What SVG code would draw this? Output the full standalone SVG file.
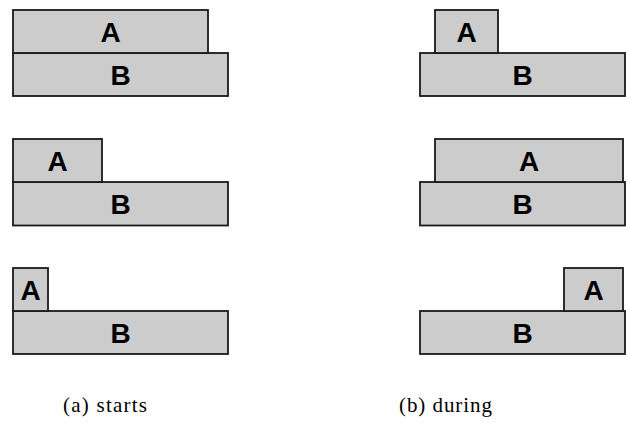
<svg xmlns="http://www.w3.org/2000/svg" width="626" height="428" viewBox="0 0 626 428">
  <style>
    .box { fill: #cccccc; stroke: #1a1a1a; stroke-width: 1.8; }
    .lbl { font-family: "Liberation Sans", Arial, sans-serif; font-weight: bold; font-size: 28px; fill: #000; text-anchor: middle; }
    .cap { font-family: "Liberation Serif", "Times New Roman", serif; font-size: 21px; fill: #000; }
  </style>
  <rect width="626" height="428" fill="#ffffff"/>

  <!-- (a) starts: A begins together with B -->
  <g id="a1">
    <g id="a1-B"><rect class="box" x="13" y="53" width="215" height="43"/><text class="lbl" x="120.5" y="85">B</text></g>
    <g id="a1-A"><rect class="box" x="13" y="10" width="195" height="43"/><text class="lbl" x="110.5" y="42">A</text></g>
  </g>
  <g id="a2">
    <g id="a2-B"><rect class="box" x="13" y="182" width="215" height="43.5"/><text class="lbl" x="120.5" y="214">B</text></g>
    <g id="a2-A"><rect class="box" x="13" y="139" width="89" height="43"/><text class="lbl" x="57.5" y="171">A</text></g>
  </g>
  <g id="a3">
    <g id="a3-B"><rect class="box" x="13" y="311" width="215" height="43"/><text class="lbl" x="120.5" y="343">B</text></g>
    <g id="a3-A"><rect class="box" x="13" y="268" width="35" height="43"/><text class="lbl" x="30.5" y="300">A</text></g>
  </g>

  <!-- (b) during: A lies strictly inside B -->
  <g id="b1">
    <g id="b1-B"><rect class="box" x="420" y="53" width="205" height="43"/><text class="lbl" x="522.5" y="85">B</text></g>
    <g id="b1-A"><rect class="box" x="435" y="10" width="63" height="43"/><text class="lbl" x="466.5" y="42">A</text></g>
  </g>
  <g id="b2">
    <g id="b2-B"><rect class="box" x="420" y="182" width="205" height="43.5"/><text class="lbl" x="522.5" y="214">B</text></g>
    <g id="b2-A"><rect class="box" x="435" y="139" width="188" height="43"/><text class="lbl" x="529" y="171">A</text></g>
  </g>
  <g id="b3">
    <g id="b3-B"><rect class="box" x="420" y="311" width="205" height="43"/><text class="lbl" x="522.5" y="343">B</text></g>
    <g id="b3-A"><rect class="box" x="564" y="268" width="59" height="43"/><text class="lbl" x="593.5" y="300">A</text></g>
  </g>

  <g id="connectors"/>

  <text class="cap" x="63" y="412" textLength="84" lengthAdjust="spacing">(a) starts</text>
  <text class="cap" x="399" y="412" textLength="93" lengthAdjust="spacing">(b) during</text>
</svg>
